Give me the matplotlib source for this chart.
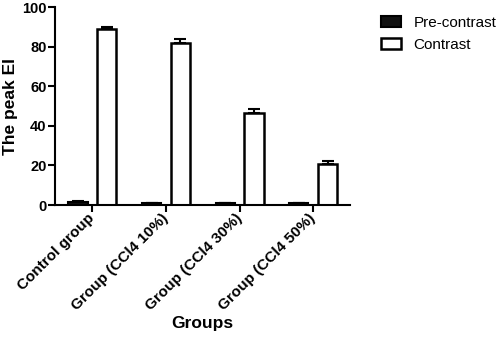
import matplotlib.pyplot as plt
import numpy as np

plt.rcParams['font.family'] = ['Liberation Sans', 'DejaVu Sans']

groups = ["Control group", "Group (CCl4 10%)", "Group (CCl4 30%)", "Group (CCl4 50%)"]
pre_contrast = [1.5, 1.0, 1.0, 1.0]
pre_err = [0.4, 0.3, 0.3, 0.3]
contrast = [88.7, 81.7, 46.6, 21.0]
contrast_err = [1.3, 2.1, 2.0, 1.5]
yticks = [0, 20, 40, 60, 80, 100]


def main():
    fig = plt.figure(figsize=(4.98, 3.39), dpi=100)
    ax = fig.add_axes([0.110, 0.395, 0.593, 0.584])

    x = np.arange(len(groups))
    off = 0.195
    w = 0.26
    err_kw = dict(elinewidth=1.5, capsize=4, capthick=1.5, ecolor="black")
    zeros = [0] * len(groups)
    ax.bar(x - off, pre_contrast, w, color="#111111", edgecolor="black",
           linewidth=1.5, yerr=[zeros, pre_err], error_kw=err_kw, label="Pre-contrast")
    ax.bar(x + off, contrast, w, color="white", edgecolor="black",
           linewidth=1.8, yerr=[zeros, contrast_err], error_kw=err_kw, label="Contrast")

    ax.set_xlim(-0.51, 3.5)
    ax.set_ylim(0, 100)
    ax.set_yticks(yticks)
    ax.set_xticks(x)
    ax.set_xticklabels(groups, rotation=45, ha="right", va="center",
                       rotation_mode="anchor", fontweight="bold", fontsize=11)
    for lbl in ax.get_yticklabels():
        lbl.set_fontweight("bold")
        lbl.set_fontsize(10.5)

    for s in ["top", "right"]:
        ax.spines[s].set_visible(False)
    for s in ["left", "bottom"]:
        ax.spines[s].set_linewidth(1.5)
    ax.tick_params(width=1.5, length=5, pad=1)
    ax.tick_params(axis="x", pad=3)

    ax.set_ylabel("The peak EI", fontweight="bold", fontsize=12.5, labelpad=3)
    ax.set_xlabel("Groups", fontweight="bold", fontsize=12.5, labelpad=2)

    fig.legend(loc="upper left", bbox_to_anchor=(0.749, 0.975), frameon=False,
               fontsize=11, handlelength=1.35, handleheight=0.7, borderpad=0,
               labelspacing=0.5, handletextpad=0.8)

    fig.savefig("out.png", dpi=100)
    plt.close(fig)


if __name__ == "__main__":
    main()
